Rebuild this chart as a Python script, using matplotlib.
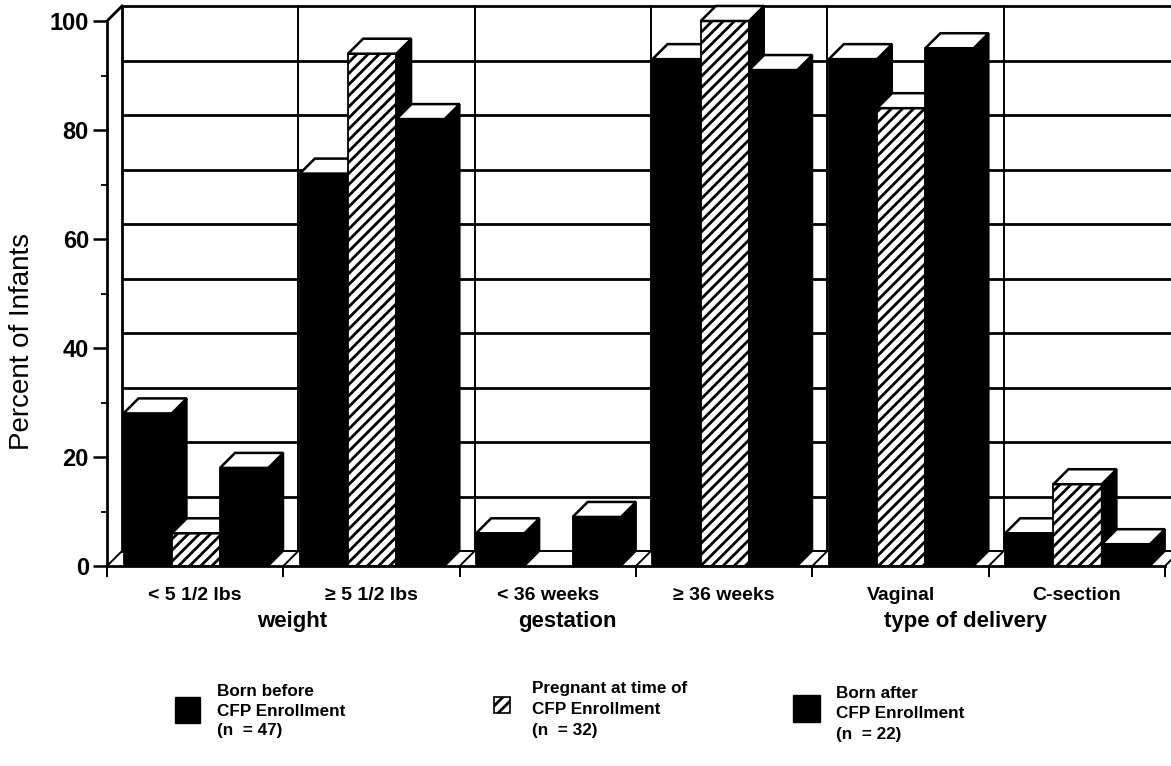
import matplotlib
matplotlib.use('Agg')
import matplotlib.pyplot as plt
from matplotlib.patches import Polygon, Rectangle

# ---------------- data ----------------
categories = ['< 5 1/2 lbs', '\u2265 5 1/2 lbs', '< 36 weeks', '\u2265 36 weeks', 'Vaginal', 'C-section']
groups = ['weight', 'gestation', 'type of delivery']
born_before = [28, 72, 6, 93, 93, 6]
pregnant_at = [6, 94, 0, 100, 84, 15]
born_after = [18, 82, 9, 91, 95, 4]
series_labels = ['Born before\nCFP Enrollment\n(n  = 47)',
                 'Pregnant at time of\nCFP Enrollment\n(n  = 32)',
                 'Born after\nCFP Enrollment\n(n  = 22)']
yticks = [0, 20, 40, 60, 80, 100]
ylabel = 'Percent of Infants'

# ---------------- style ----------------
plt.rcParams['font.family'] = ['Liberation Sans', 'DejaVu Sans']
plt.rcParams['hatch.linewidth'] = 2.0
W, H = 1171, 766
fig = plt.figure(figsize=(W / 100, H / 100), dpi=100)
ax = fig.add_axes([107 / W, 1 - 566 / H, 1058 / W, 545 / H])
n = len(categories)
ax.set_xlim(0, n)
ax.set_ylim(0, 100)
ax.patch.set_visible(False)

DX = 15 / (1058 / n)      # depth offset in x data units
DY = 15 / 5.45            # depth offset in y data units
OFF = 16.5 / (1058 / n)   # gap before first bar in category
BW = (1 - OFF - DX) / 3   # bar width
LW_GRID = 2.0
LW_EDGE = 1.3

# back wall gridlines
for v in range(10, 101, 10):
    ax.plot([DX, n + DX + 0.3], [v + DY, v + DY], color='black', lw=LW_GRID,
            clip_on=False, zorder=1, solid_capstyle='butt')
# back wall verticals
for k in range(0, n + 1):
    ax.plot([k + DX, k + DX], [DY, 100 + DY], color='black', lw=1.4 if k else LW_GRID,
            clip_on=False, zorder=1)
# floor back line and diagonals
ax.plot([DX, n + DX + 0.3], [DY, DY], color='black', lw=1.4, clip_on=False, zorder=1)
for k in range(0, n + 1):
    ax.plot([k, k + DX], [0, DY], color='black', lw=1.4, clip_on=False, zorder=1)
# top-left diagonal
ax.plot([0, DX], [100, 100 + DY], color='black', lw=LW_GRID, clip_on=False, zorder=1)

# bars
series = [born_before, pregnant_at, born_after]
z = 3
for i in range(n):
    for s, vals in enumerate(series):
        v = vals[i]
        if v <= 0:
            continue
        x0 = i + OFF + s * BW
        if s == 1:
            cont = ax.bar([x0], [v], width=BW, align='edge', facecolor='white',
                          edgecolor='black', hatch='///', linewidth=LW_EDGE, zorder=z)
        else:
            cont = ax.bar([x0], [v], width=BW, align='edge', facecolor='black',
                          edgecolor='black', linewidth=LW_EDGE, zorder=z)
        r = cont.patches[0]
        xl, xr, top = r.get_x(), r.get_x() + r.get_width(), r.get_height()
        top_face = Polygon([(xl, top), (xr, top), (xr + DX, top + DY), (xl + DX, top + DY)],
                           closed=True, facecolor='white', edgecolor='black',
                           linewidth=LW_EDGE * 1.4, zorder=z + 0.1, clip_on=False)
        side_face = Polygon([(xr, 0), (xr + DX, DY), (xr + DX, top + DY), (xr, top)],
                            closed=True, facecolor='black', edgecolor='black',
                            linewidth=LW_EDGE, zorder=z + 0.05, clip_on=False)
        ax.add_patch(side_face)
        ax.add_patch(top_face)
        z += 1

# spines and ticks
for sp in ['top', 'right']:
    ax.spines[sp].set_visible(False)
ax.spines['left'].set_linewidth(2.0)
ax.spines['bottom'].set_linewidth(2.0)
ax.spines['left'].set_zorder(50)
ax.spines['bottom'].set_zorder(50)
ax.set_yticks(yticks)
ax.set_yticklabels([str(t) for t in yticks], fontsize=17, fontweight='bold')
ax.set_yticks(range(10, 100, 20), minor=True)
ax.tick_params(axis='y', which='major', length=10, width=1.8, pad=3)
ax.tick_params(axis='y', which='minor', length=4, width=1.3)
ax.set_xticks(range(0, n + 1))
ax.set_xticklabels([])
ax.tick_params(axis='x', which='major', length=8, width=1.4)
ax.set_xticks([i + 0.5 for i in range(n)], minor=True)
ax.set_xticklabels(categories, minor=True, fontsize=14, fontweight='bold')
ax.tick_params(axis='x', which='minor', length=0, pad=15)

# group labels
group_x = [1.05, 2.61, 4.87]
for gx, g in zip(group_x, groups):
    ax.text(gx, -10.2, g, ha='center', va='center', fontsize=16, fontweight='bold',
            clip_on=False)

fig.text(22 / W, 1 - 342 / H, ylabel, rotation=90, ha='center', va='center', fontsize=20)

# legend (manual)
leg_boxes = [(175, 697, 25, 26), (494, 697, 16, 16), (793, 695, 27, 27)]
leg_text_x = [217, 532, 836]
leg_text_y = [[692, 711, 731], [689, 710, 731], [693, 714, 734]]
for s in range(3):
    bx, by, bw, bh = leg_boxes[s]
    if s == 1:
        rect = Rectangle((bx / W, 1 - (by + bh) / H), bw / W, bh / H, transform=fig.transFigure,
                         facecolor='white', edgecolor='black', hatch='///', linewidth=1.2)
    else:
        rect = Rectangle((bx / W, 1 - (by + bh) / H), bw / W, bh / H, transform=fig.transFigure,
                         facecolor='black', edgecolor='black', linewidth=1.0)
    fig.add_artist(rect)
    for line, ly in zip(series_labels[s].split('\n'), leg_text_y[s]):
        fig.text(leg_text_x[s] / W, 1 - ly / H, line, ha='left', va='center', fontsize=12.3,
                 fontweight='bold')

fig.savefig('out.png', dpi=100)
